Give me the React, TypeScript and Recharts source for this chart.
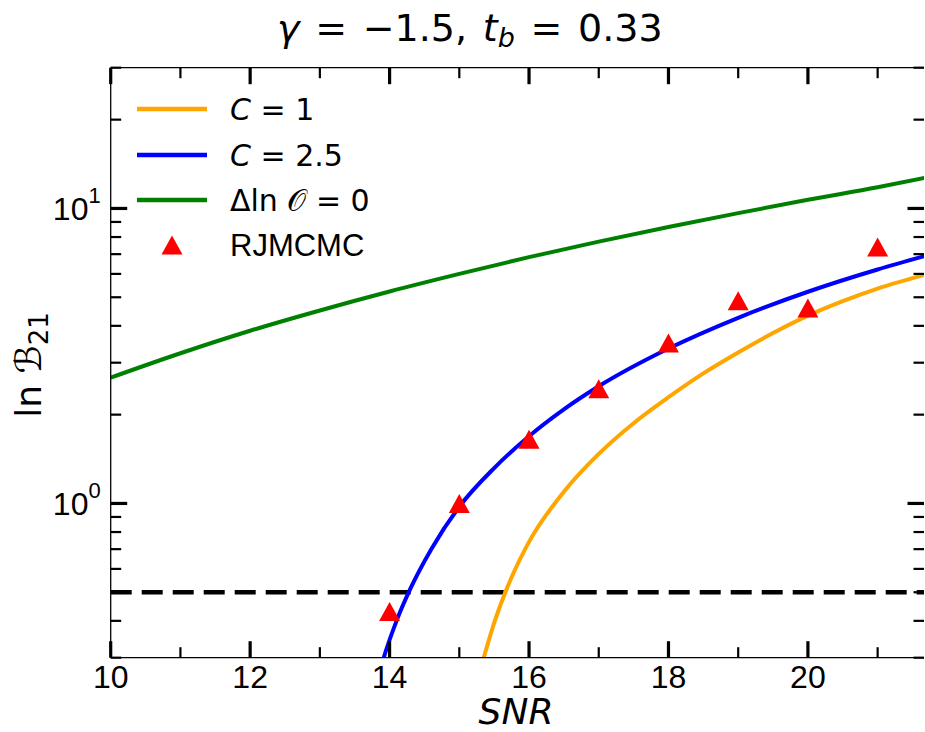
import React from 'react';
import { ComposedChart, Line, Scatter, XAxis, YAxis, ReferenceLine } from 'recharts';

// ---- data ----
const snrC1 = [15.3, 15.5, 15.75, 16, 16.5, 17, 17.5, 18, 18.5, 19, 19.5, 20, 20.5, 21, 21.68];
const lnBC1 = [0.272, 0.394, 0.562, 0.741, 1.096, 1.472, 1.871, 2.291, 2.76, 3.25, 3.78, 4.33, 4.85, 5.35, 5.96];
const snrC25 = [13.85, 13.92, 14.1, 14.3, 14.6, 15, 15.5, 16, 16.5, 17, 18, 19, 20, 21, 21.68];
const lnBC25 = [0.264, 0.302, 0.4, 0.515, 0.701, 0.975, 1.318, 1.69, 2.084, 2.495, 3.35, 4.26, 5.22, 6.21, 6.9];
const snrOdds = [10, 11, 12, 13, 14, 15, 16, 17, 18, 19, 20, 21, 21.68];
const lnBOdds = [2.67, 3.23, 3.85, 4.51, 5.23, 6.0, 6.84, 7.72, 8.65, 9.64, 10.7, 11.8, 12.7];
const snrRJ = [14, 15, 16, 17, 18, 19, 20, 21];
const lnBRJ = [0.43, 1.0, 1.65, 2.45, 3.5, 4.87, 4.6, 7.4];
const threshold = 0.5;

const xDomain = [10, 21.665];
const yDomain = [0.3, 30];
const xTicks = [10, 11, 12, 13, 14, 15, 16, 17, 18, 19, 20, 21];
const xMajor = [10, 12, 14, 16, 18, 20];
const yTicks = [0.3, 0.4, 0.5, 0.6, 0.7, 0.8, 0.9, 1, 2, 3, 4, 5, 6, 7, 8, 9, 10, 20, 30];
const yMajor = [1, 10];
const yMajorExp: Record<number, string> = { 1: '0', 10: '1' };

const toPts = (xs: number[], ys: number[]) => xs.map((x, i) => ({ x, y: ys[i] }));
const dataC1 = toPts(snrC1, lnBC1);
const dataC25 = toPts(snrC25, lnBC25);
const dataOdds = toPts(snrOdds, lnBOdds);
const dataRJ = toPts(snrRJ, lnBRJ);

const W = 925;
const H = 732;
const M = { top: 66.7, right: 0, bottom: 73.3, left: 109.7 };

const MAJ = 16.5;
const MIN = 10.5;
const TICKFONT = 'Liberation Sans, Arial, sans-serif';
const MATHFONT = 'DejaVu Sans, sans-serif';

const isMajorX = (v: number) => xMajor.includes(v);
const isMajorY = (v: number) => yMajor.some((m) => Math.abs(m - v) < 1e-9);

const BottomTick = (p: any) => {
  const { x, y, payload } = p;
  const v = payload.value;
  const major = isMajorX(v);
  return (
    <g>
      <line x1={x} x2={x} y1={y} y2={y - (major ? MAJ : MIN)} stroke="#000" strokeWidth={major ? 3.2 : 2.2} />
      {major && (
        <text x={x} y={y + 30} textAnchor="middle" fontSize={32} fontFamily={TICKFONT} fill="#000">
          {v}
        </text>
      )}
    </g>
  );
};

const TopTick = (p: any) => {
  const { x, y, payload } = p;
  const major = isMajorX(payload.value);
  return <line x1={x} x2={x} y1={y} y2={y + (major ? MAJ : MIN)} stroke="#000" strokeWidth={major ? 3.2 : 2.2} />;
};

const LeftTick = (p: any) => {
  const { x, y, payload } = p;
  const v = payload.value;
  const major = isMajorY(v);
  return (
    <g>
      <line x1={x} x2={x + (major ? MAJ : MIN)} y1={y} y2={y} stroke="#000" strokeWidth={major ? 3.2 : 2.2} />
      {major && (
        <text x={x - 10} y={y + 11.5} textAnchor="end" fontSize={32} fontFamily={TICKFONT} fill="#000">
          10
          <tspan fontSize={22} dy={-17}>
            {yMajorExp[v]}
          </tspan>
        </text>
      )}
    </g>
  );
};

const RightTick = (p: any) => {
  const { x, y, payload } = p;
  const major = isMajorY(payload.value);
  return <line x1={x} x2={x - (major ? MAJ : MIN)} y1={y} y2={y} stroke="#000" strokeWidth={major ? 3.2 : 2.2} />;
};

const Triangle = (p: any) => {
  const { cx, cy } = p;
  if (cx == null || cy == null) return null;
  const hw = 10.5;
  const hh = 9.5;
  return <path d={`M${cx},${cy - hh} L${cx + hw},${cy + hh} L${cx - hw},${cy + hh} Z`} fill="#ff0000" />;
};

const legendItems = [
  { key: 'c1', color: '#ffa500', y: 109 },
  { key: 'c25', color: '#0000ff', y: 155 },
  { key: 'odds', color: '#008000', y: 200 },
];

export default function App() {
  return (
    <div style={{ position: 'absolute', left: 0, top: 0, width: W, height: H, background: '#fff' }}>
      <ComposedChart width={W} height={H} margin={M}>
        <XAxis
          xAxisId="b"
          type="number"
          dataKey="x"
          domain={xDomain}
          allowDataOverflow
          ticks={xTicks}
          interval={0}
          orientation="bottom"
          height={1}
          tickSize={0}
          tickMargin={0}
          tickLine={false}
          axisLine={{ stroke: '#000', strokeWidth: 1.3 }}
          tick={BottomTick}
        />
        <XAxis
          xAxisId="t"
          type="number"
          dataKey="x"
          domain={xDomain}
          allowDataOverflow
          ticks={xTicks}
          interval={0}
          orientation="top"
          height={1}
          tickSize={0}
          tickMargin={0}
          tickLine={false}
          axisLine={{ stroke: '#000', strokeWidth: 1.3 }}
          tick={TopTick}
        />
        <YAxis
          yAxisId="l"
          type="number"
          scale="log"
          domain={yDomain}
          allowDataOverflow
          ticks={yTicks}
          interval={0}
          orientation="left"
          width={1}
          tickSize={0}
          tickMargin={0}
          tickLine={false}
          axisLine={{ stroke: '#000', strokeWidth: 1.3 }}
          tick={LeftTick}
        />
        <YAxis
          yAxisId="r"
          type="number"
          scale="log"
          domain={yDomain}
          allowDataOverflow
          ticks={yTicks}
          interval={0}
          orientation="right"
          width={1}
          tickSize={0}
          tickMargin={0}
          tickLine={false}
          axisLine={false}
          tick={RightTick}
        />
        <ReferenceLine
          xAxisId="b"
          yAxisId="l"
          y={threshold}
          stroke="#000"
          strokeWidth={4.5}
          strokeDasharray="21 10"
          ifOverflow="hidden"
        />
        <Line
          xAxisId="b"
          yAxisId="l"
          data={dataC1}
          dataKey="y"
          type="monotone"
          stroke="#ffa500"
          strokeWidth={4}
          dot={false}
          isAnimationActive={false}
        />
        <Line
          xAxisId="b"
          yAxisId="l"
          data={dataC25}
          dataKey="y"
          type="monotone"
          stroke="#0000ff"
          strokeWidth={4}
          dot={false}
          isAnimationActive={false}
        />
        <Line
          xAxisId="b"
          yAxisId="l"
          data={dataOdds}
          dataKey="y"
          type="monotone"
          stroke="#008000"
          strokeWidth={4}
          dot={false}
          isAnimationActive={false}
        />
        <Scatter
          xAxisId="b"
          yAxisId="l"
          data={dataRJ}
          dataKey="y"
          shape={Triangle}
          isAnimationActive={false}
        />
        {/* title */}
        <text x={277} y={41} fontSize={38} fontFamily={MATHFONT} fill="#000" wordSpacing={3.6}>
          <tspan fontStyle="italic">γ</tspan>
          <tspan> = −1.5, </tspan>
          <tspan fontStyle="italic">t</tspan>
          <tspan fontStyle="italic" fontSize={27} dy={6}>b</tspan>
          <tspan dy={-6}> = 0.33</tspan>
        </text>
        {/* x label */}
        <text x={516} y={724} textAnchor="middle" fontSize={36} fontStyle="italic" fontFamily={MATHFONT} fill="#000">
          SNR
        </text>
        {/* y label */}
        <text transform="translate(41,365) rotate(-90)" textAnchor="middle" fontSize={36} fontFamily={MATHFONT} fill="#000">
          ln ℬ<tspan fontSize={26} dy={7}>21</tspan>
        </text>
        {/* legend */}
        {legendItems.map((it) => (
          <line key={it.key} x1={137} x2={207} y1={it.y} y2={it.y} stroke={it.color} strokeWidth={4.5} />
        ))}
        <path d="M172,235.5 L182.5,254.5 L161.5,254.5 Z" fill="#ff0000" />
        <text x={230} y={120} fontSize={30} fontFamily={MATHFONT} fill="#000">
          <tspan fontStyle="italic">C</tspan> = 1
        </text>
        <text x={230} y={166} fontSize={30} fontFamily={MATHFONT} fill="#000">
          <tspan fontStyle="italic">C</tspan> = 2.5
        </text>
        <text x={230} y={211} fontSize={30} fontFamily={MATHFONT} fill="#000">
          Δln 𝒪 = 0
        </text>
        <text x={230} y={256} fontSize={31} fontFamily={TICKFONT} fill="#000">
          RJMCMC
        </text>
      </ComposedChart>
    </div>
  );
}
